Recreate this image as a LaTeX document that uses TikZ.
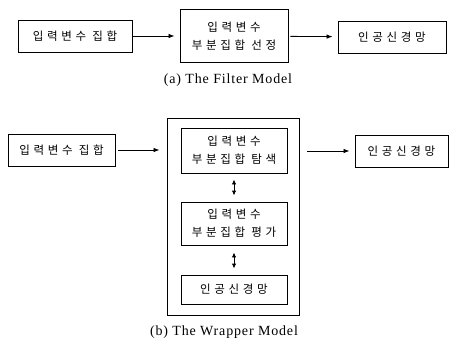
\documentclass[tikz,border=0pt]{standalone}
\usepackage{fontspec}
\usetikzlibrary{arrows.meta}
\newfontfamily\kor[LetterSpace=32]{Noto Sans CJK KR}
\newfontfamily\capfont[LetterSpace=6]{Liberation Serif}
\begin{document}
\begin{tikzpicture}[x=1pt,y=-1pt,
  box/.style={draw, line width=0.9pt, inner sep=0pt, align=center,
    font=\kor\fontsize{11.5}{18}\selectfont},
  frame/.style={draw, line width=0.9pt, inner sep=0pt},
  arr/.style={line width=0.8pt, -{Latex[length=6pt,width=4.5pt]}},
  darr/.style={line width=0.9pt, {Latex[length=5pt,width=4.5pt]}-{Latex[length=5pt,width=4.5pt]}},
  captext/.style={font=\capfont\fontsize{14}{16}\selectfont}]
\useasboundingbox (0,0) rectangle (457,342);

% (a) filter model
\node[box, minimum width=114, minimum height=32] (a1) at (75,36) {입력변수 집합};
\node[box, minimum width=108, minimum height=53] (a2) at (234,36) {입력변수\\부분집합 선정};
\node[box, minimum width=108, minimum height=32] (a3) at (392,37) {인공신경망};
\draw[arr, shorten >=5pt] (a1) -- (a2);
\draw[arr, shorten <=2pt, shorten >=5pt] (a2) -- (a3);
\node[captext] (capa) at (228,80) {(a) The Filter Model};

% (b) wrapper model
\node[box, minimum width=107, minimum height=32] (b1) at (61.5,150) {입력변수 집합};
\node[frame, minimum width=132, minimum height=197] (outer) at (233,216.5) {};
\node[box, minimum width=106, minimum height=45] (i1) at (234,150.5) {입력변수\\부분집합 탐색};
\node[box, minimum width=106, minimum height=43] (i2) at (234,223.5) {입력변수\\부분집합 평가};
\node[box, minimum width=106, minimum height=29] (i3) at (234,289.5) {인공신경망};
\node[box, minimum width=93, minimum height=32] (b3) at (401.5,151) {인공신경망};
\draw[arr, shorten <=3pt, shorten >=7pt] (b1.east) -- (b1.east -| outer.west);
\draw[arr, shorten <=8pt, shorten >=5pt] (outer.east |- b3.west) -- (b3.west);
\draw[darr, shorten <=6pt, shorten >=6pt] (i1) -- (i2);
\draw[darr, shorten <=7pt, shorten >=6pt] (i2) -- (i3);
\node[captext] (capb) at (224,332) {(b) The Wrapper Model};
\end{tikzpicture}
\end{document}
